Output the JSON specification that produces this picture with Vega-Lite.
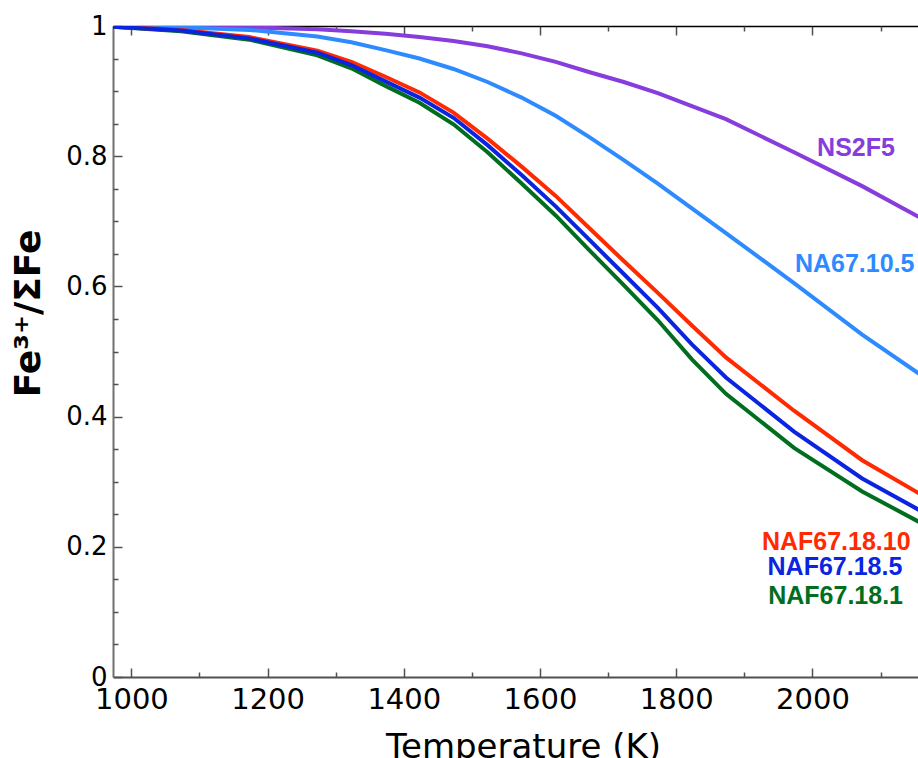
{
  "$schema": "https://vega.github.io/schema/vega-lite/v6.json",
  "width": 805,
  "height": 651,
  "autosize": "none",
  "padding": {"left": 113, "top": 26, "right": 0, "bottom": 81},
  "background": "white",
  "config": {
    "view": {"stroke": null},
    "axis": {"grid": false, "labelFlush": false, "tickColor": "#505050", "tickWidth": 1.5, "labelColor": "black", "titleColor": "black"}
  },
  "datasets": {
    "curves": [
      {"series": "NS2F5", "T": 973, "v": 1.0},
      {"series": "NS2F5", "T": 1073, "v": 0.999},
      {"series": "NS2F5", "T": 1173, "v": 0.998},
      {"series": "NS2F5", "T": 1273, "v": 0.995},
      {"series": "NS2F5", "T": 1323, "v": 0.992},
      {"series": "NS2F5", "T": 1373, "v": 0.988},
      {"series": "NS2F5", "T": 1423, "v": 0.983},
      {"series": "NS2F5", "T": 1473, "v": 0.977},
      {"series": "NS2F5", "T": 1523, "v": 0.969},
      {"series": "NS2F5", "T": 1573, "v": 0.958},
      {"series": "NS2F5", "T": 1623, "v": 0.945},
      {"series": "NS2F5", "T": 1673, "v": 0.929},
      {"series": "NS2F5", "T": 1723, "v": 0.914},
      {"series": "NS2F5", "T": 1773, "v": 0.897},
      {"series": "NS2F5", "T": 1823, "v": 0.877},
      {"series": "NS2F5", "T": 1873, "v": 0.857},
      {"series": "NS2F5", "T": 1973, "v": 0.806},
      {"series": "NS2F5", "T": 2073, "v": 0.754},
      {"series": "NS2F5", "T": 2173, "v": 0.697},
      {"series": "NA67.10.5", "T": 973, "v": 1.0},
      {"series": "NA67.10.5", "T": 1073, "v": 0.998},
      {"series": "NA67.10.5", "T": 1173, "v": 0.994},
      {"series": "NA67.10.5", "T": 1273, "v": 0.984},
      {"series": "NA67.10.5", "T": 1323, "v": 0.975},
      {"series": "NA67.10.5", "T": 1373, "v": 0.963},
      {"series": "NA67.10.5", "T": 1423, "v": 0.950},
      {"series": "NA67.10.5", "T": 1473, "v": 0.934},
      {"series": "NA67.10.5", "T": 1523, "v": 0.914},
      {"series": "NA67.10.5", "T": 1573, "v": 0.890},
      {"series": "NA67.10.5", "T": 1623, "v": 0.862},
      {"series": "NA67.10.5", "T": 1673, "v": 0.829},
      {"series": "NA67.10.5", "T": 1723, "v": 0.794},
      {"series": "NA67.10.5", "T": 1773, "v": 0.758},
      {"series": "NA67.10.5", "T": 1823, "v": 0.720},
      {"series": "NA67.10.5", "T": 1873, "v": 0.682},
      {"series": "NA67.10.5", "T": 1973, "v": 0.605},
      {"series": "NA67.10.5", "T": 2073, "v": 0.526},
      {"series": "NA67.10.5", "T": 2173, "v": 0.454},
      {"series": "NAF67.18.1", "T": 973, "v": 0.999},
      {"series": "NAF67.18.1", "T": 1073, "v": 0.992},
      {"series": "NAF67.18.1", "T": 1173, "v": 0.979},
      {"series": "NAF67.18.1", "T": 1273, "v": 0.955},
      {"series": "NAF67.18.1", "T": 1323, "v": 0.935},
      {"series": "NAF67.18.1", "T": 1373, "v": 0.908},
      {"series": "NAF67.18.1", "T": 1423, "v": 0.882},
      {"series": "NAF67.18.1", "T": 1473, "v": 0.849},
      {"series": "NAF67.18.1", "T": 1523, "v": 0.806},
      {"series": "NAF67.18.1", "T": 1573, "v": 0.758},
      {"series": "NAF67.18.1", "T": 1623, "v": 0.709},
      {"series": "NAF67.18.1", "T": 1673, "v": 0.655},
      {"series": "NAF67.18.1", "T": 1723, "v": 0.602},
      {"series": "NAF67.18.1", "T": 1773, "v": 0.548},
      {"series": "NAF67.18.1", "T": 1823, "v": 0.488},
      {"series": "NAF67.18.1", "T": 1873, "v": 0.435},
      {"series": "NAF67.18.1", "T": 1973, "v": 0.352},
      {"series": "NAF67.18.1", "T": 2073, "v": 0.285},
      {"series": "NAF67.18.1", "T": 2173, "v": 0.229},
      {"series": "NAF67.18.10", "T": 973, "v": 0.999},
      {"series": "NAF67.18.10", "T": 1073, "v": 0.994},
      {"series": "NAF67.18.10", "T": 1173, "v": 0.983},
      {"series": "NAF67.18.10", "T": 1273, "v": 0.962},
      {"series": "NAF67.18.10", "T": 1323, "v": 0.945},
      {"series": "NAF67.18.10", "T": 1373, "v": 0.922},
      {"series": "NAF67.18.10", "T": 1423, "v": 0.898},
      {"series": "NAF67.18.10", "T": 1473, "v": 0.867},
      {"series": "NAF67.18.10", "T": 1523, "v": 0.827},
      {"series": "NAF67.18.10", "T": 1573, "v": 0.784},
      {"series": "NAF67.18.10", "T": 1623, "v": 0.739},
      {"series": "NAF67.18.10", "T": 1673, "v": 0.689},
      {"series": "NAF67.18.10", "T": 1723, "v": 0.639},
      {"series": "NAF67.18.10", "T": 1773, "v": 0.590},
      {"series": "NAF67.18.10", "T": 1823, "v": 0.540},
      {"series": "NAF67.18.10", "T": 1873, "v": 0.491},
      {"series": "NAF67.18.10", "T": 1973, "v": 0.409},
      {"series": "NAF67.18.10", "T": 2073, "v": 0.333},
      {"series": "NAF67.18.10", "T": 2173, "v": 0.272},
      {"series": "NAF67.18.5", "T": 973, "v": 0.999},
      {"series": "NAF67.18.5", "T": 1073, "v": 0.993},
      {"series": "NAF67.18.5", "T": 1173, "v": 0.981},
      {"series": "NAF67.18.5", "T": 1273, "v": 0.959},
      {"series": "NAF67.18.5", "T": 1323, "v": 0.940},
      {"series": "NAF67.18.5", "T": 1373, "v": 0.915},
      {"series": "NAF67.18.5", "T": 1423, "v": 0.890},
      {"series": "NAF67.18.5", "T": 1473, "v": 0.859},
      {"series": "NAF67.18.5", "T": 1523, "v": 0.817},
      {"series": "NAF67.18.5", "T": 1573, "v": 0.771},
      {"series": "NAF67.18.5", "T": 1623, "v": 0.723},
      {"series": "NAF67.18.5", "T": 1673, "v": 0.671},
      {"series": "NAF67.18.5", "T": 1723, "v": 0.619},
      {"series": "NAF67.18.5", "T": 1773, "v": 0.567},
      {"series": "NAF67.18.5", "T": 1823, "v": 0.511},
      {"series": "NAF67.18.5", "T": 1873, "v": 0.460},
      {"series": "NAF67.18.5", "T": 1973, "v": 0.377},
      {"series": "NAF67.18.5", "T": 2073, "v": 0.305},
      {"series": "NAF67.18.5", "T": 2173, "v": 0.247}
    ],
    "labels": [
      {"series": "NS2F5", "T": 2064, "v": 0.813},
      {"series": "NA67.10.5", "T": 2062, "v": 0.635},
      {"series": "NAF67.18.10", "T": 2035, "v": 0.208},
      {"series": "NAF67.18.5", "T": 2033, "v": 0.169},
      {"series": "NAF67.18.1", "T": 2034, "v": 0.124}
    ]
  },
  "layer": [
    {
      "data": {"name": "curves"},
      "mark": {"type": "line", "strokeWidth": 4, "clip": true},
      "encoding": {
        "x": {
          "field": "T", "type": "quantitative",
          "scale": {"domain": [973, 2155], "nice": false, "zero": false},
          "axis": {
            "orient": "bottom", "values": [1000, 1200, 1400, 1600, 1800, 2000], "format": "d",
            "tickSize": -9, "labelPadding": 40, "labelBaseline": "alphabetic",
            "labelFont": "DejaVu Sans", "labelFontSize": 29,
            "domainColor": "#505050", "domainWidth": 2,
            "title": "Temperature (K)", "titleFont": "DejaVu Sans", "titleFontSize": 34, "titleFontWeight": "normal",
            "titleBaseline": "alphabetic", "titleX": 410, "titleY": 80, "titleAlign": "center"
          }
        },
        "y": {
          "field": "v", "type": "quantitative",
          "scale": {"domain": [0, 1], "nice": false},
          "axis": {
            "orient": "left", "values": [0, 0.2, 0.4, 0.6, 0.8, 1], "format": "~g",
            "tickSize": -9, "labelPadding": 15,
            "labelFont": "DejaVu Sans", "labelFontSize": 26,
            "domainColor": "#707070", "domainWidth": 2,
            "title": "Fe³⁺/ΣFe", "titleFont": "DejaVu Sans", "titleFontSize": 36, "titleFontWeight": "bold",
            "titleAngle": -90, "titleBaseline": "alphabetic", "titleAlign": "center", "titleX": -74, "titleY": 287
          }
        },
        "color": {
          "field": "series", "type": "nominal", "legend": null,
          "scale": {
            "domain": ["NAF67.18.1", "NAF67.18.10", "NAF67.18.5", "NA67.10.5", "NS2F5"],
            "range": ["#006e1e", "#ff2a00", "#0a24e0", "#2e8bff", "#873cdc"]
          }
        }
      }
    },
    {
      "data": {"name": "labels"},
      "mark": {"type": "text", "font": "Liberation Sans", "fontWeight": "bold", "fontSize": 25, "align": "center", "baseline": "middle"},
      "encoding": {
        "x": {
          "field": "T", "type": "quantitative",
          "axis": {"orient": "top", "values": [1000, 1200, 1400, 1600, 1800, 2000], "tickSize": -9, "labels": false, "title": null, "domainColor": "black", "domainWidth": 1.5}
        },
        "y": {
          "field": "v", "type": "quantitative",
          "axis": {"orient": "left", "values": [0.05, 0.1, 0.15, 0.25, 0.3, 0.35, 0.45, 0.5, 0.55, 0.65, 0.7, 0.75, 0.85, 0.9, 0.95], "tickSize": -5, "labels": false, "title": null, "domain": false}
        },
        "text": {"field": "series"},
        "color": {"field": "series", "type": "nominal", "legend": null}
      }
    },
    {
      "data": {"name": "curves"},
      "mark": {"type": "line", "opacity": 0},
      "encoding": {
        "x": {
          "field": "T", "type": "quantitative",
          "axis": {"orient": "bottom", "values": [1100, 1300, 1500, 1700, 1900, 2100], "tickSize": -5, "labels": false, "title": null, "domain": false}
        },
        "y": {"field": "v", "type": "quantitative", "axis": null},
        "detail": {"field": "series"}
      }
    },
    {
      "data": {"name": "curves"},
      "mark": {"type": "line", "opacity": 0},
      "encoding": {
        "x": {
          "field": "T", "type": "quantitative",
          "axis": {"orient": "top", "values": [1100, 1300, 1500, 1700, 1900, 2100], "tickSize": -5, "labels": false, "title": null, "domain": false}
        },
        "y": {"field": "v", "type": "quantitative", "axis": null},
        "detail": {"field": "series"}
      }
    }
  ],
  "resolve": {"axis": {"x": "independent", "y": "independent"}}
}
